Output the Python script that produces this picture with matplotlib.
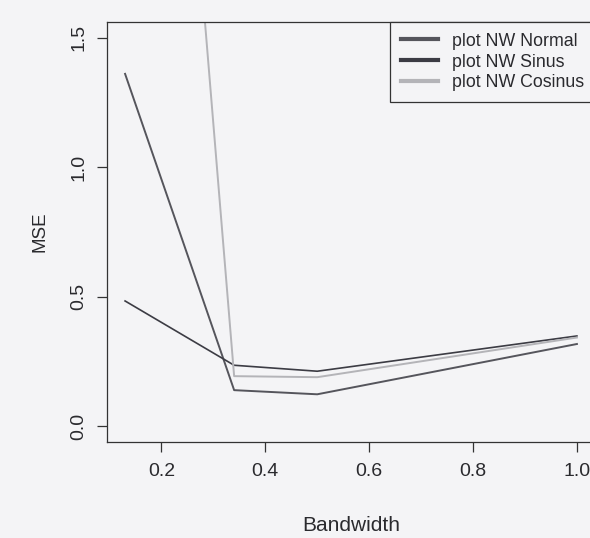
import matplotlib.pyplot as plt

plt.rcParams['font.family'] = ['Liberation Sans', 'DejaVu Sans']

# MSE per bandwidth for each Nadaraya-Watson kernel
bandwidth = [0.13, 0.34, 0.50, 1.00]
mse_normal = [1.36, 0.14, 0.124, 0.318]
mse_sinus = [0.484, 0.236, 0.213, 0.349]
mse_cosinus = [5.3, 0.194, 0.19, 0.343]

kleur_papier = '#f4f4f6'
kleur_tekst = '#2a2a2e'

fig = plt.figure(figsize=(5.9, 5.38), dpi=100, facecolor=kleur_papier)
ax = fig.add_axes([107 / 590, 1 - 442 / 538, 488 / 590, 420 / 538])
ax.set_facecolor(kleur_papier)

ax.plot(bandwidth, mse_normal, color='#55555c', lw=1.4, label='plot NW Normal')
ax.plot(bandwidth, mse_sinus, color='#3c3c44', lw=1.2, label='plot NW Sinus')
ax.plot(bandwidth, mse_cosinus, color='#b4b4b8', lw=1.4, label='plot NW Cosinus')

ax.set_xlim(0.0952, 1.0348)
ax.set_ylim(-0.06, 1.56)
ax.set_xticks([0.2, 0.4, 0.6, 0.8, 1.0])
ax.set_yticks([0.0, 0.5, 1.0, 1.5])
ax.set_xticklabels(['0.2', '0.4', '0.6', '0.8', '1.0'])
ax.set_yticklabels(['0.0', '0.5', '1.0', '1.5'], rotation=90, va='center')
ax.tick_params(axis='both', length=7, width=0.9, color='#333333',
               labelsize=14, labelcolor=kleur_tekst)
ax.tick_params(axis='x', pad=8)
ax.tick_params(axis='y', pad=7)

for spine in ax.spines.values():
    spine.set_color('#333333')
    spine.set_linewidth(0.9)

ax.set_xlabel('Bandwidth', fontsize=15, color=kleur_tekst, labelpad=26)
ax.set_ylabel('MSE', fontsize=13.5, color=kleur_tekst, labelpad=16)

leg = ax.legend(loc='upper left', bbox_to_anchor=(0.58, 1.0), borderaxespad=0,
                fontsize=12.8, handlelength=2.1, handletextpad=0.8,
                borderpad=0.6, labelspacing=0.22, fancybox=False,
                framealpha=1, facecolor=kleur_papier, edgecolor='#333333',
                labelcolor=kleur_tekst)
leg.get_frame().set_linewidth(0.9)
for line in leg.get_lines():
    line.set_linewidth(3)

fig.savefig('out.png', dpi=100, facecolor=kleur_papier)
